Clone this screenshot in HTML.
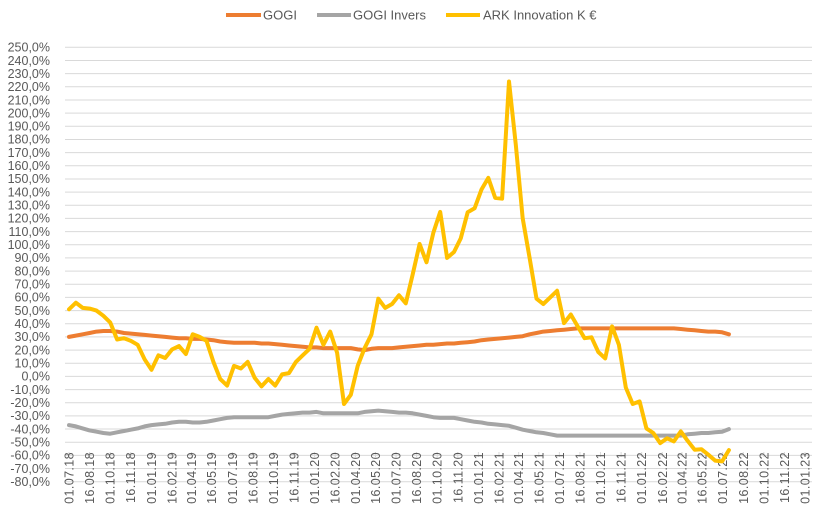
<!DOCTYPE html>
<html><head><meta charset="utf-8"><style>
html,body{margin:0;padding:0;background:#fff;}
svg{display:block;font-family:"Liberation Sans",sans-serif;}
</style></head><body>
<svg id="chart" width="815" height="511" viewBox="0 0 815 511">
<g id="grid"></g>
<g id="yaxis"></g>
<g id="xaxis"></g>
<g id="series"></g>
<g id="legend">
  <g>
    <line x1="226" y1="15" x2="261" y2="15" stroke="#ED7D31" stroke-width="4"/>
    <text x="263" y="19.5" font-size="13" fill="#595959">GOGI</text>
  </g>
  <g>
    <line x1="317" y1="15" x2="351" y2="15" stroke="#A5A5A5" stroke-width="4"/>
    <text x="353" y="19.5" font-size="13" fill="#595959">GOGI Invers</text>
  </g>
  <g>
    <line x1="446" y1="15" x2="480" y2="15" stroke="#FFC000" stroke-width="4"/>
    <text x="483" y="19.5" font-size="13" fill="#595959">ARK Innovation K €</text>
  </g>
</g>
</svg>
<script>
const yTicks = [250,240,230,220,210,200,190,180,170,160,150,140,130,120,110,100,90,80,70,60,50,40,30,20,10,0,-10,-20,-30,-40,-50,-60,-70,-80];
const xTickLabels = ["01.07.18","16.08.18","01.10.18","16.11.18","01.01.19","16.02.19","01.04.19","16.05.19","01.07.19","16.08.19","01.10.19","16.11.19","01.01.20","16.02.20","01.04.20","16.05.20","01.07.20","16.08.20","01.10.20","16.11.20","01.01.21","16.02.21","01.04.21","16.05.21","01.07.21","16.08.21","01.10.21","16.11.21","01.01.22","16.02.22","01.04.22","16.05.22","01.07.22","16.08.22","01.10.22","16.11.22","01.01.23"];
const seriesNames = ["GOGI","GOGI Invers","ARK Innovation K €"];
const firstDate = "01.07.18";
const lastDate = "15.07.22";
const gogi = [30,31,32,33,34,34.5,34.5,34,33,32.5,32,31.5,31,30.5,30,29.5,29,29,28.5,28.5,28,27.5,26.5,26,25.5,25.5,25.5,25.5,25,25,24.5,24,23.5,23,22.5,22,22,21.5,21.5,21.5,21.5,21.5,20.5,20,21,21.5,21.5,21.5,22,22.5,23,23.5,24,24,24.5,25,25,25.5,26,26.5,27.5,28,28.5,29,29.5,30,30.5,32,33,34,34.5,35,35.5,36,36.5,36.5,36.5,36.5,36.5,36.5,36.5,36.5,36.5,36.5,36.5,36.5,36.5,36.5,36.5,36,35.5,35,34.5,34,34,33.5,32];
const gogiInvers = [-37,-38,-39.5,-41,-42,-43,-43.5,-42.5,-41.5,-40.5,-39.5,-38,-37,-36.5,-36,-35,-34.5,-34.5,-35,-35,-34.5,-33.5,-32.5,-31.5,-31,-31,-31,-31,-31,-31,-30,-29,-28.5,-28,-27.5,-27.5,-27,-28,-28,-28,-28,-28,-28,-27,-26.5,-26,-26.5,-27,-27.5,-27.5,-28,-29,-30,-31,-31.5,-31.5,-31.5,-32.5,-33.5,-34.5,-35,-36,-36.5,-37,-37.5,-39,-40.5,-41.5,-42.5,-43,-44,-45,-45,-45,-45,-45,-45,-45,-45,-45,-45,-45,-45,-45,-45,-45,-45,-45,-45,-45,-44,-43.5,-43,-43,-42.5,-42,-40];
const ark = [51,56,52,51.5,50,46,41,28,29,27,24,13,5,16,14,20.5,23,17,32,30,27,11,-2,-7,8,6,11,-1,-7.6,-2,-7,1.5,2.5,11,16,21,37,24,34,18,-21,-14,8,21.5,32,59,52,55,61.6,55.5,77.5,100.6,86.7,109,125,90,94.5,105,124.7,127.7,142,150.8,135.6,135,224,176,120,90,59,55,60,65,40.5,47,38,29,29.7,18.5,13.7,38,24,-8.4,-21,-19,-39.5,-43,-50.7,-47,-49.4,-41.8,-49,-55.7,-55.3,-59.5,-64,-64.6,-56];

const NS="http://www.w3.org/2000/svg";
const t0 = Date.UTC(2018,6,1), t1 = Date.UTC(2023,0,1);
function xScale(t){ return 69 + (t - t0)/(t1 - t0)*736; }
function yScale(v){ return 47.3 + (250 - v)*1.3164; }
function parseD(s){ const p=s.split('.'); return Date.UTC(2000+ +p[2], +p[1]-1, +p[0]); }
const dStart=parseD(firstDate), dEnd=parseD(lastDate);
const dates=[];
for(let i=0;i<ark.length;i++){ dates.push(dStart+(dEnd-dStart)*i/(ark.length-1)); }
function mk(tag,attrs,parent){ const e=document.createElementNS(NS,tag); for(const k in attrs) e.setAttribute(k,attrs[k]); parent.appendChild(e); return e; }

const grid=document.getElementById('grid'), yax=document.getElementById('yaxis'), xax=document.getElementById('xaxis'), ser=document.getElementById('series');
yTicks.forEach(v=>{
  const y=yScale(v);
  const l=mk('line',{x1:65,x2:812,y1:y,y2:y,stroke:'#D9D9D9','stroke-width':1},grid);
  
  
  const t=mk('text',{x:50,y:y+4.3,'text-anchor':'end','font-size':12.5,fill:'#595959'},yax);
  
  
  t.textContent=v.toFixed(1).replace('.',',')+'%';
});
xTickLabels.forEach(s=>{
  const x=xScale(parseD(s));
  const tk=mk('line',{x1:x,x2:x,y1:452,y2:457,stroke:'#D9D9D9','stroke-width':1},xax);
  
  
  const t=mk('text',{x:0,y:0,'text-anchor':'end','font-size':12.5,fill:'#595959',transform:`translate(${x+4.5},452) rotate(-90)`,'letter-spacing':'0.4'},xax);
  
  
  t.textContent=s;
});
function drawLine(vals,color,name){
  const d=vals.map((v,i)=>(i?'L':'M')+xScale(dates[i]).toFixed(1)+','+yScale(v).toFixed(1)).join(' ');
  const p=mk('path',{d:d,fill:'none',stroke:color,'stroke-width':4,'stroke-linejoin':'round','stroke-linecap':'round'},ser);
  
  
}
drawLine(gogi,'#ED7D31','gogi-line');
drawLine(gogiInvers,'#A5A5A5','gogi-invers-line');
drawLine(ark,'#FFC000','ark-innovation-line');
</script>
</body></html>
